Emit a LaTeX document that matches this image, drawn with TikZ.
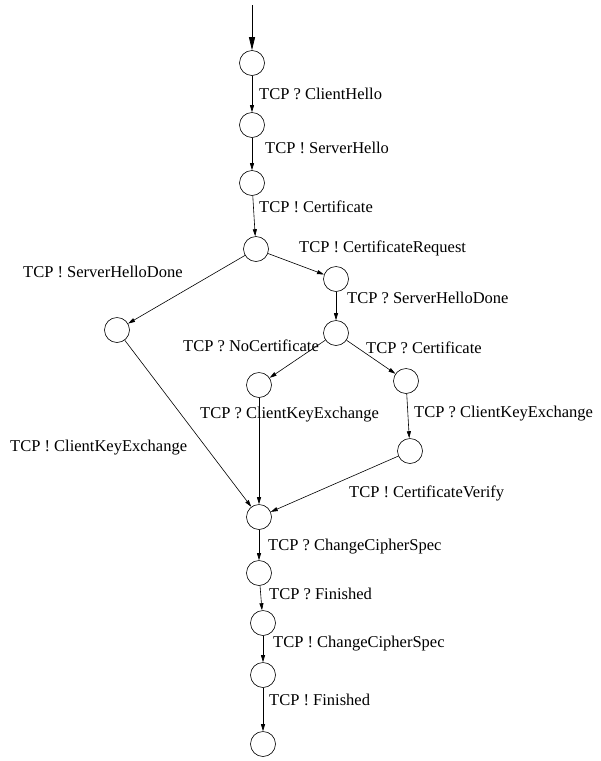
\documentclass[tikz,border=0pt]{standalone}
\usepackage{fontspec}
\setmainfont{Liberation Serif}
\usetikzlibrary{arrows.meta}
\tikzset{
	state/.style={circle,draw,line width=0.6pt,minimum size=25pt,inner sep=0pt},
	lab/.style={anchor=base west,inner sep=0pt,font=\fontsize{16.5}{18}\selectfont},
	trans/.style={->,line width=0.6pt}
}
\begin{document}
\begin{tikzpicture}[>={Triangle[length=7pt,width=4pt]},x=1pt,y=-1pt]
			\useasboundingbox (0,0) rectangle (601,761);
			%states
			\coordinate (start) at (252,5);
			\node[state] (s1) at (252,63) {};
			\node[state] (s2) at (252,125) {};
			\node[state] (s3) at (252,183) {};
			\node[state] (s4) at (256,249) {};
			\node[state] (s5) at (117,330) {};
			\node[state] (s6) at (336,279) {};
			\node[state] (s7) at (336,333) {};
			\node[state] (s8) at (259,385) {};
			\node[state] (s9) at (406,381) {};
			\node[state] (s10) at (410,451) {};
			\node[state] (s11) at (259,517) {};
			\node[state] (s12) at (259,573) {};
			\node[state] (s13) at (263,623) {};
			\node[state] (s14) at (263,675) {};
			\node[state] (s15) at (263,744) {};
			%transitions
			\draw[->,line width=0.8pt,>={Triangle[length=13pt,width=6pt]}] (start) -- (s1);
			\draw[trans] (s1) -- (s2);
			\draw[trans] (s2) -- (s3);
			\draw[trans] (s3) -- (s4);
			\draw[trans] (s4) -- (s5);
			\draw[trans] (s4) -- (s6);
			\draw[trans] (s6) -- (s7);
			\draw[trans] (s7) -- (s8);
			\draw[trans] (s7) -- (s9);
			\draw[trans] (s9) -- (s10);
			\draw[trans] (s5) -- (s11);
			\draw[trans] (s8) -- (s11);
			\draw[trans] (s10) -- (s11);
			\draw[trans] (s11) -- (s12);
			\draw[trans] (s12) -- (s13);
			\draw[trans] (s13) -- (s14);
			\draw[trans] (s14) -- (s15);
			%labels
			\node[lab] (l1) at (259,99) {TCP ? ClientHello};
			\node[lab] (l2) at (265,153) {TCP ! ServerHello};
			\node[lab] (l3) at (259,212) {TCP ! Certificate};
			\node[lab] (l4) at (299,252) {TCP ! CertificateRequest};
			\node[lab] (l5) at (23,277) {TCP ! ServerHelloDone};
			\node[lab] (l6) at (347,303) {TCP ? ServerHelloDone};
			\node[lab] (l7) at (183,351) {TCP ? NoCertificate};
			\node[lab] (l8) at (366,353) {TCP ? Certificate};
			\node[lab] (l9) at (200,418) {TCP ? ClientKeyExchange};
			\node[lab] (l10) at (414,417) {TCP ? ClientKeyExchange};
			\node[lab] (l11) at (10,451) {TCP ! ClientKeyExchange};
			\node[lab] (l12) at (349,497) {TCP ! CertificateVerify};
			\node[lab] (l13) at (268,550) {TCP ? ChangeCipherSpec};
			\node[lab] (l14) at (269,599) {TCP ? Finished};
			\node[lab] (l15) at (273,647) {TCP ! ChangeCipherSpec};
			\node[lab] (l16) at (269,705) {TCP ! Finished};
	\end{tikzpicture}
\end{document}
